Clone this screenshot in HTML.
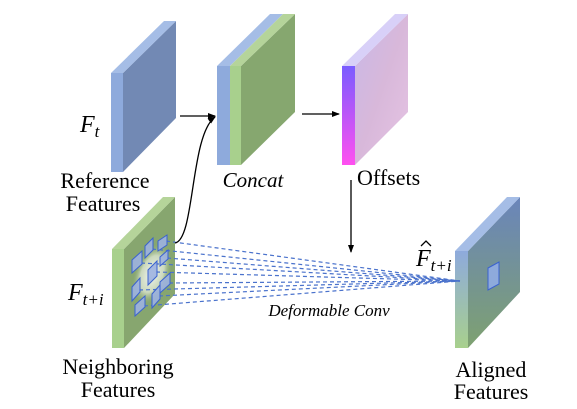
<!DOCTYPE html>
<html><head><meta charset="utf-8"><style>
html,body{margin:0;padding:0;background:#fff;}
svg{display:block}
svg text{font-family:"Liberation Serif","DejaVu Serif","Noto Serif CJK SC",serif !important;fill:#000}
</style></head><body>
<svg width="577" height="409" viewBox="0 0 577 409" xmlns="http://www.w3.org/2000/svg">
<defs>
<linearGradient id="offS" x1="0" y1="0" x2="1" y2="1">
<stop offset="0" stop-color="#c8b8e8"/><stop offset="0.5" stop-color="#d8b8da"/><stop offset="1" stop-color="#e6c4e4"/>
</linearGradient>
<linearGradient id="offF" x1="0" y1="0" x2="0" y2="1">
<stop offset="0" stop-color="#7a5cff"/><stop offset="1" stop-color="#ff50f0"/>
</linearGradient>
<linearGradient id="alF" x1="0" y1="0" x2="0" y2="1">
<stop offset="0" stop-color="#8eaadc"/><stop offset="1" stop-color="#a8d08d"/>
</linearGradient>
<linearGradient id="alS" x1="0" y1="0" x2="0" y2="1">
<stop offset="0" stop-color="#6a85bb"/><stop offset="1" stop-color="#7ea170"/>
</linearGradient>
<radialGradient id="glow" cx="0.5" cy="0.5" r="0.5">
<stop offset="0" stop-color="#ffffff" stop-opacity="0.9"/><stop offset="0.6" stop-color="#e8eedf" stop-opacity="0.7"/><stop offset="1" stop-color="#87a66f" stop-opacity="0"/>
</radialGradient>
<marker id="ah" markerWidth="8" markerHeight="8" refX="7" refY="4" orient="auto" markerUnits="userSpaceOnUse">
<path d="M0,1 L8,4 L0,7 z" fill="#000"/></marker>
</defs>

<polygon points="123,73 176,21 176,118 123,172" fill="#7289b4"/>
<polygon points="111,73 123,73 176,21 164,21" fill="#a5bde6"/>
<rect x="111" y="73" width="12" height="99" fill="#8eaadc"/>

<polygon points="241,66 295,14 295,112 241,165" fill="#86a76f"/>
<polygon points="217,66 230,66 283,14 270,14" fill="#a5bde6"/>
<polygon points="230,66 241,66 295,14 283,14" fill="#b5d49a"/>
<rect x="217" y="66" width="13" height="99" fill="#8eaadc"/>
<rect x="230" y="66" width="11" height="99" fill="#a8d08d"/>

<polygon points="355,66 408,14 408,112 355,165" fill="url(#offS)"/>
<polygon points="342,66 355,66 408,14 395,14" fill="#d8d0f8"/>
<rect x="342" y="66" width="13" height="99" fill="url(#offF)"/>

<polygon points="124,249 175,197 175,294 124,348" fill="#87a66f"/>
<polygon points="112,249 124,249 175,197 163,197" fill="#b5d49a"/>
<rect x="112" y="249" width="12" height="99" fill="#a8d08d"/>
<ellipse cx="152" cy="274" rx="18" ry="32" fill="url(#glow)" transform="rotate(20 152 274)"/>

<polygon points="468,251 520,197 520,292 468,348" fill="url(#alS)"/>
<polygon points="455,251 468,251 520,197 507,197" fill="#a5bde6"/>
<rect x="455" y="251" width="13" height="97" fill="url(#alF)"/>
<polygon points="488,268 499,262 499,284 488,290" fill="#8eaadc" stroke="#3a62d0" stroke-width="1"/>

<g stroke="#4a72cc" stroke-width="1.2" stroke-dasharray="4,3" fill="none">
<line x1="166" y1="241" x2="460" y2="281"/>
<line x1="152" y1="249" x2="460" y2="281"/>
<line x1="141" y1="263" x2="460" y2="281"/>
<line x1="167" y1="258" x2="460" y2="281"/>
<line x1="156" y1="272" x2="460" y2="281"/>
<line x1="169" y1="283" x2="460" y2="281"/>
<line x1="139" y1="290" x2="460" y2="281"/>
<line x1="159" y1="296" x2="460" y2="281"/>
<line x1="144" y1="306" x2="460" y2="281"/>
</g>
<g fill="#9db3e0" fill-opacity="0.9" stroke="#3a62d0" stroke-width="1">
<polygon points="158,241 167,235 167,245 158,251"/>
<polygon points="145,246 153,238 153,250 145,258"/>
<polygon points="132,260 142,251 142,264 132,273"/>
<polygon points="160,257 168,250 168,259 160,266"/>
<polygon points="148,270 157,261 157,276 148,285"/>
<polygon points="160,282 170,273 170,284 160,293"/>
<polygon points="132,287 140,278 140,292 132,301"/>
<polygon points="152,294 160,285 160,299 152,308"/>
<polygon points="135,305 145,296 145,307 135,316"/>
</g>

<g stroke="#000" stroke-width="1.3" fill="none">
<line x1="180" y1="116" x2="215" y2="116" marker-end="url(#ah)"/>
<path d="M175,243 C195,240 190,135 215,117" marker-end="url(#ah)"/>
<line x1="302" y1="114" x2="339" y2="114" marker-end="url(#ah)"/>
<line x1="351" y1="180" x2="351" y2="252" marker-end="url(#ah)"/>
</g>

<text x="80" y="132" font-size="24" font-style="italic">F<tspan font-size="17" dy="5">t</tspan></text>
<text x="105" y="188" font-size="22" text-anchor="middle">Reference</text>
<text x="103" y="211" font-size="22" text-anchor="middle">Features</text>
<text x="253" y="187" font-size="21" font-style="italic" text-anchor="middle">Concat</text>
<text x="357" y="185" font-size="22">Offsets</text>
<text x="68" y="300" font-size="24" font-style="italic">F<tspan font-size="17" dy="5">t+i</tspan></text>
<text x="329" y="316" font-size="17" font-style="italic" text-anchor="middle">Deformable Conv</text>
<text x="118" y="374" font-size="22" text-anchor="middle">Neighboring</text>
<text x="118" y="397" font-size="22" text-anchor="middle">Features</text>
<text x="416" y="266" font-size="24" font-style="italic">F<tspan font-size="17" dy="5">t+i</tspan></text>
<path d="M421,246 L426,241 L431,246" stroke="#000" stroke-width="1.3" fill="none"/>
<text x="491" y="377" font-size="22" text-anchor="middle">Aligned</text>
<text x="491" y="399" font-size="22" text-anchor="middle">Features</text>
</svg>
</body></html>
